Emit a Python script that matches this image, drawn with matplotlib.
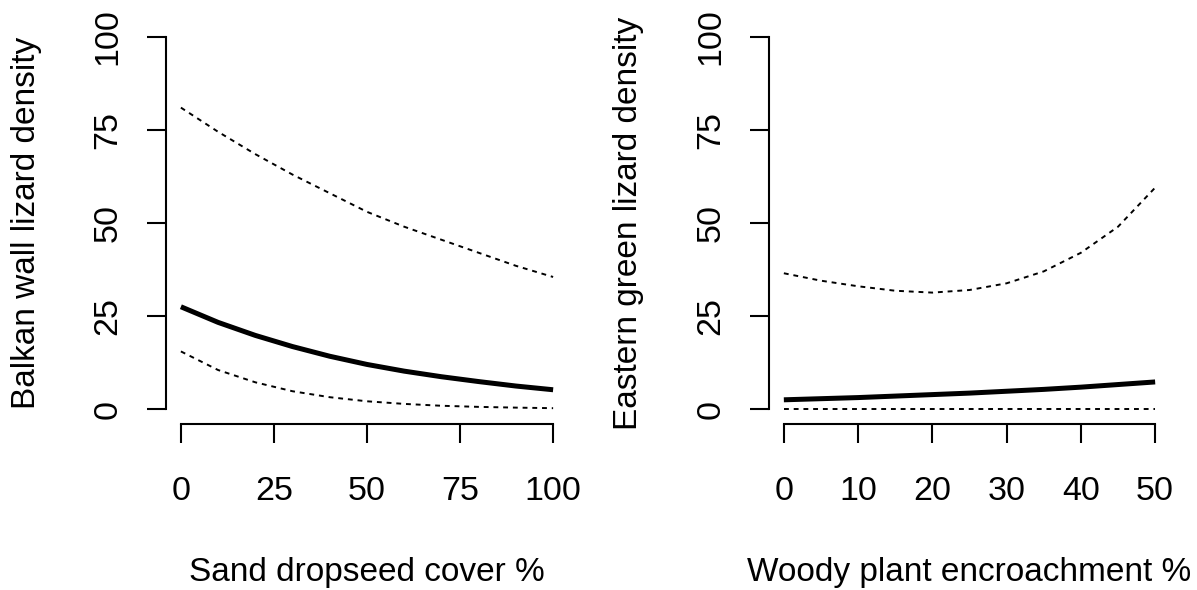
import numpy as np
import matplotlib
matplotlib.use("Agg")
import matplotlib.pyplot as plt

plt.rcParams['font.family'] = ['Liberation Sans', 'DejaVu Sans']

# left panel: sand dropseed cover
sand_x = [0, 10, 20, 30, 40, 50, 60, 70, 80, 90, 100]
sand_fit = [27.5, 23.3, 19.8, 16.8, 14.2, 12.0, 10.2, 8.7, 7.4, 6.2, 5.2]
sand_upper = [81, 74.5, 68.5, 63, 58, 53, 49, 45.5, 42, 38.5, 35.5]
sand_lower = [15.5, 10.5, 7.2, 4.8, 3.2, 2.1, 1.4, 0.9, 0.6, 0.4, 0.25]

# right panel: woody plant encroachment
woody_x = [0, 5, 10, 15, 20, 25, 30, 35, 40, 45, 50]
woody_fit = [2.5, 2.8, 3.1, 3.5, 3.9, 4.3, 4.8, 5.3, 5.9, 6.6, 7.3]
woody_upper = [36.5, 34.5, 33, 31.8, 31.3, 32, 33.8, 37, 42, 49, 59.5]
woody_lower = [0.1, 0.1, 0.1, 0.1, 0.1, 0.1, 0.1, 0.1, 0.1, 0.1, 0.1]

xticks_left = [0, 25, 50, 75, 100]
xticks_right = [0, 10, 20, 30, 40, 50]
yticks = [0, 25, 50, 75, 100]

W, H = 1197, 590
fig = plt.figure(figsize=(W / 100, H / 100), dpi=100)

fs_tick = 24.5
fs_lab = 24
panels = [
    (166, 568, 42, sand_x, sand_fit, sand_upper, sand_lower, xticks_left,
     "Sand dropseed cover %", "Balkan wall lizard density"),
    (769, 1170, 644, woody_x, woody_fit, woody_upper, woody_lower, xticks_right,
     "Woody plant encroachment %", "Eastern green lizard density"),
]

for left, right, ylab_x, x, fit, up, lo, xt, xlab, ylab in panels:
    ax = fig.add_axes([left / W, (H - 424) / H, (right - left) / W, 402 / H])
    xmax = xt[-1]
    pad = 0.04 * xmax
    ax.plot(x, fit, color='black', lw=3.6, solid_capstyle='butt')
    ax.plot(x, up, color='black', lw=1.4, dashes=(2.5, 2.5))
    ax.plot(x, lo, color='black', lw=1.4, dashes=(2.5, 2.5))
    ax.set_xlim(-pad, xmax + pad)
    ax.set_ylim(-4, 104)
    for s in ('top', 'right'):
        ax.spines[s].set_visible(False)
    ax.spines['left'].set_bounds(0, 100)
    ax.spines['bottom'].set_bounds(0, xmax)
    for s in ('left', 'bottom'):
        ax.spines[s].set_linewidth(1.5)
    ax.set_xticks(xt)
    ax.set_yticks(yticks)
    ax.tick_params(axis='both', direction='out', length=13.5, width=1.5,
                   labelsize=fs_tick)
    ax.tick_params(axis='x', pad=24)
    ax.tick_params(axis='y', pad=17, labelrotation=90)
    for t in ax.get_yticklabels():
        t.set_va('center')
    ax.set_xlabel(xlab, fontsize=fs_lab)
    ax.set_ylabel(ylab, fontsize=fs_lab)
    ax.xaxis.set_label_coords(0.5, -0.33)
    ax.yaxis.set_label_coords((ylab_x - left) / (right - left), 0.5)

fig.savefig("out.png", dpi=100)
